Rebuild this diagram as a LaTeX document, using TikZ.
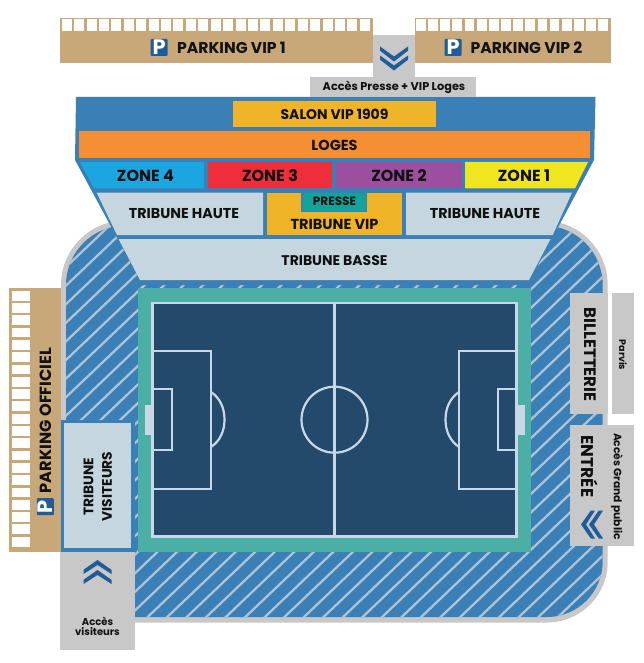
\documentclass[tikz,border=0pt]{standalone}
\usepackage{fontspec}
\setmainfont{Poppins}
\definecolor{bluebg}{HTML}{3A7FB5}
\definecolor{stripe}{HTML}{AFC3D6}
\definecolor{greyb}{HTML}{C8C8C8}
\definecolor{tan1}{HTML}{C8A878}
\definecolor{light}{HTML}{C5D6DE}
\definecolor{teal1}{HTML}{4CAFA5}
\definecolor{navy}{HTML}{234A6B}
\definecolor{lineb}{HTML}{C8D8E6}
\definecolor{gold}{HTML}{F0B429}
\definecolor{orange1}{HTML}{F58F33}
\definecolor{zone4}{HTML}{1CA6E0}
\definecolor{zone3}{HTML}{EE2E3A}
\definecolor{zone2}{HTML}{9C4F9F}
\definecolor{zone1}{HTML}{F0E61F}
\definecolor{press}{HTML}{12A39A}
\definecolor{chev}{HTML}{1F5C99}
\definecolor{ink}{HTML}{111111}
\tikzset{
  lbl/.style={font=\bfseries\fontsize{#1}{#1}\selectfont,text=ink,inner sep=0pt,align=center},
  pitchline/.style={draw=lineb,line width=2.2pt},
  stall/.style={fill=white}
}
\newcommand{\chevD}[4]{% cx, y, halfw, h: pointing down
  \fill[chev] (#1-#3,#2) -- (#1,#2+#4) -- (#1+#3,#2) -- (#1+#3,#2+4.2) -- (#1,#2+#4+5) -- (#1-#3,#2+4.2) -- cycle;
}
\newcommand{\chevU}[4]{%
  \fill[chev] (#1-#3,#2) -- (#1,#2-#4) -- (#1+#3,#2) -- (#1+#3,#2-4.2) -- (#1,#2-#4-5) -- (#1-#3,#2-4.2) -- cycle;
}
\newcommand{\chevL}[4]{%
  \fill[chev] (#1,#2-#3) -- (#1-#4,#2) -- (#1,#2+#3) -- (#1-4.2,#2+#3) -- (#1-#4-5,#2) -- (#1-4.2,#2-#3) -- cycle;
}
\begin{document}
\begin{tikzpicture}[x=1pt,y=-1pt]
\useasboundingbox (0,0) rectangle (643,663);
\fill[white] (0,0) rectangle (643,663);
% stadium outline
\fill[greyb] (135,622.5) -- (547,622.5) arc[start angle=90,end angle=0,radius=60.7] -- (607.7,285)
  arc[start angle=0,end angle=-90,radius=64.5] -- (125.5,220.5)
  arc[start angle=-90,end angle=-180,radius=64.5] -- (61,425) -- (135,425) -- cycle;
% hatched stands
\begin{scope}
\clip (135,617) -- (547,617) arc[start angle=90,end angle=0,radius=55.7] -- (602.7,285)
  arc[start angle=0,end angle=-90,radius=59.5] -- (125.5,225.5)
  arc[start angle=-90,end angle=-180,radius=59.5] -- (66,425) -- (135,425) -- cycle;
\fill[bluebg] (60,220) rectangle (610,625);
\foreach \k in {-25,...,28}{
  \draw[stripe,line width=2.3pt] (40,{663.7+18.6*\k}) -- (640,{92.5+18.6*\k});
}
\end{scope}
% field
\fill[teal1] (138,287.7) rectangle (531,551.7);
\fill[navy] (152,302.7) rectangle (517,536.7);
\fill[lineb] (145,405) rectangle (152.5,435);
\fill[lineb] (517,405) rectangle (525,435);
\draw[pitchline] (152.5,303) rectangle (516.5,536.5);
\draw[pitchline] (334.5,303) -- (334.5,536.5);
\draw[pitchline] (334.5,419.7) circle[radius=33];
\draw[pitchline] (152.5,350.7) rectangle (211,489);
\draw[pitchline] (152.5,389.3) rectangle (171.7,450);
\draw[pitchline] (211,392) .. controls (220,398) and (224.5,408) .. (224.5,419.7) .. controls (224.5,431) and (220,441) .. (211,447);
\draw[pitchline] (516.5,350.7) rectangle (459,489);
\draw[pitchline] (516.5,389.3) rectangle (498.3,450);
\draw[pitchline] (459,392) .. controls (450,398) and (445.5,408) .. (445.5,419.7) .. controls (445.5,431) and (450,441) .. (459,447);
% main stand
\fill[bluebg] (76,97) -- (595.5,97) -- (594,160) -- (530,280) -- (530,285) -- (140,285) -- (140,280) -- (75,160) -- cycle;
\fill[gold] (232.7,100.7) rectangle (436,127.3);
\fill[orange1] (79.3,131.3) rectangle (590,158);
\fill[zone4] (80,162) -- (204,162) -- (204,188.3) -- (94,188.3) -- cycle;
\fill[zone3] (207.7,162) rectangle (332,188.3);
\fill[zone2] (336,162) rectangle (461.7,188.3);
\fill[zone1] (465,162) -- (588,162) -- (575,188.3) -- (465,188.3) -- cycle;
\fill[light] (96.7,192.7) -- (263,192.7) -- (263,235) -- (117,235) -- cycle;
\fill[gold] (267,192.7) rectangle (402,235);
\fill[light] (406,192.7) -- (572,192.7) -- (552.7,235) -- (406,235) -- cycle;
\fill[bluebg] (301.3,192.7) rectangle (367.4,212);
\fill[press] (302.7,192.7) rectangle (366,210.7);
\fill[light] (118.5,239) -- (550.5,239) -- (529,280) -- (140,280) -- cycle;
% parkings
\fill[tan1] (60,18) rectangle (373,62.7);
\foreach \k in {0,...,24}{\fill[stall] ({61.7+12.42*\k},19.5) rectangle ++(10,11.5);}
\fill[tan1] (415,18) rectangle (611,62.7);
\foreach \k in {0,...,15}{\fill[stall] ({416+12.15*\k},19.5) rectangle ++(9.8,11.5);}
\fill[tan1] (9,288) rectangle (61,551.7);
\foreach \k in {0,...,20}{\fill[stall] (11.7,{290.7+12.3*\k}) rectangle ++(18.3,9.8);}
% access top
\fill[greyb] (373.3,35) rectangle (414.7,77);
\fill[greyb] (310,77) rectangle (476,96.6);
\chevD{394}{46.5}{14}{10}
\chevD{394}{55.5}{14}{10}
% visitors stand
\fill[bluebg] (61,420) rectangle (134.5,551.7);
\fill[light] (64,423) rectangle (131,547.7);
\fill[greyb] (60,551.7) rectangle (135,650);
\chevU{97.5}{574}{14}{9}
\chevU{97.5}{584}{14}{9}
% right side
\fill[greyb] (570,293.3) rectangle (607.7,414.3);
\fill[greyb] (612.3,293.3) rectangle (634,414.3);
\fill[greyb] (570,425) rectangle (634,545.7);
\chevL{595}{524.5}{14}{9}
\chevL{603}{524.5}{14}{9}
% P icons
\foreach \cx/\cy/\rot/\nm in {159.2/47.5/0/pa,453.2/47.5/0/pb,45.3/506.7/90/pc}{
  \fill[chev,rounded corners=1pt] (\cx-8.5,\cy-8.5) rectangle (\cx+8.5,\cy+8.5);
  \node[font=\bfseries\fontsize{21}{21}\selectfont,text=white,inner sep=0pt,rotate=\rot] (\nm) at (\cx,\cy) {P};
}
% labels
\node[lbl=15.6] (t1) at (231.5,47.5) {PARKING VIP 1};
\node[lbl=15.6] (t2) at (526.5,47.5) {PARKING VIP 2};
\node[lbl=11.3] (t3) at (394,87.5) {Accès Presse + VIP Loges};
\node[lbl=14] (t4) at (334.5,114) {SALON VIP 1909};
\node[lbl=14.5] (t5) at (334.5,145) {LOGES};
\node[lbl=16] (t6) at (145.5,175.5) {ZONE 4};
\node[lbl=16] (t7) at (270,175.5) {ZONE 3};
\node[lbl=16] (t8) at (399,175.5) {ZONE 2};
\node[lbl=16] (t9) at (524,175.5) {ZONE 1};
\node[lbl=14.3] (t10) at (184,214) {TRIBUNE HAUTE};
\node[lbl=14.3] (t11) at (485,214) {TRIBUNE HAUTE};
\node[lbl=12] (t12) at (334.5,201.3) {PRESSE};
\node[lbl=14.5] (t13) at (334.5,224) {TRIBUNE VIP};
\node[lbl=14] (t14) at (334.5,260.7) {TRIBUNE BASSE};
\node[lbl=16.2,rotate=90] (t15) at (46,420.5) {PARKING OFFICIEL};
\node[lbl=13.8,rotate=90] (t16) at (88.5,486.5) {TRIBUNE};
\node[lbl=13.8,rotate=90] (t17) at (107,486.5) {VISITEURS};
\node[lbl=10] (t18) at (97.5,621) {Accès};
\node[lbl=10] (t19) at (97.5,632) {visiteurs};
\node[lbl=16.6,rotate=-90] (t20) at (590,354.7) {BILLETTERIE};
\node[lbl=9.5,rotate=-90] (t21) at (623,355) {Parvis};
\node[lbl=17,rotate=-90] (t22) at (590,466.5) {ENTRÉE};
\node[lbl=10.7,rotate=-90] (t23) at (617,486.5) {Accès Grand public};
\end{tikzpicture}
\end{document}
